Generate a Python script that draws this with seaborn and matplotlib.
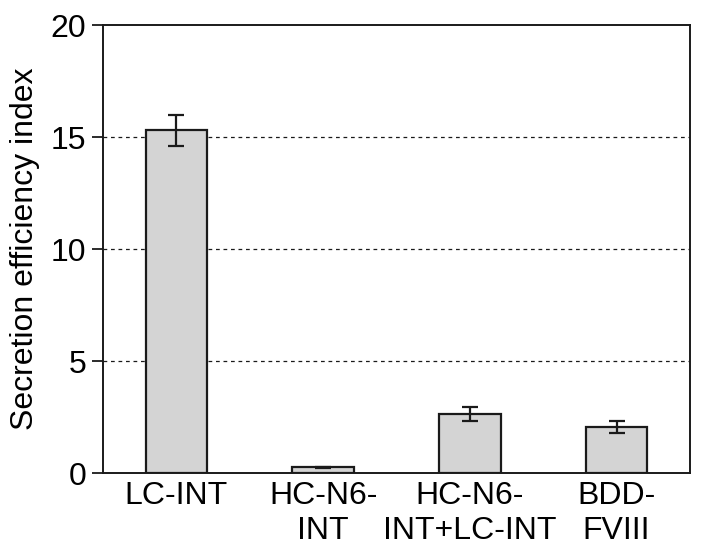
import matplotlib
matplotlib.use("Agg")
import matplotlib.pyplot as plt
import seaborn as sns
import pandas as pd

categories = ["LC-INT", "HC-N6-\nINT", "HC-N6-\nINT+LC-INT", "BDD-\nFVIII"]
values = [15.3, 0.27, 2.65, 2.05]
errors = [0.7, 0.02, 0.32, 0.27]
yticks = [0, 5, 10, 15, 20]

sns.set_theme(style="white")
plt.rcParams['font.family'] = ['Liberation Sans', 'DejaVu Sans']
plt.rcParams['text.color'] = 'black'
plt.rcParams['axes.labelcolor'] = 'black'
plt.rcParams['xtick.color'] = 'black'
plt.rcParams['ytick.color'] = 'black'

df = pd.DataFrame({"cat": categories, "val": values})
fig = plt.figure(figsize=(7.03, 5.56), dpi=100)
ax = fig.add_axes([0.1465, 0.149, 0.835, 0.806])

sns.barplot(data=df, x="cat", y="val", ax=ax, color="#d4d4d4", width=0.42,
            edgecolor="#1a1a1a", linewidth=1.6, errorbar=None, saturation=1)
ax.errorbar(range(len(values)), values, yerr=errors, fmt="none",
            ecolor="#1a1a1a", elinewidth=1.6, capsize=5.5, capthick=1.6, zorder=5)

ax.set_ylim(0, 20)
ax.set_xlim(-0.5, 3.5)
ax.set_yticks(yticks)
ax.set_yticklabels([str(t) for t in yticks])
for t in [5, 10, 15]:
    ax.axhline(t, color="#1a1a1a", linestyle=(0, (3, 3)), linewidth=0.9, zorder=0)
ax.set_axisbelow(True)

ax.set_xlabel("")
ax.set_ylabel("Secretion efficiency index", fontsize=23, labelpad=8)
ax.tick_params(axis="y", direction="out", length=8, width=1.3, color="#1a1a1a",
               labelsize=23, left=True, pad=4)
ax.tick_params(axis="x", length=0, labelsize=23, pad=6)
for s in ax.spines.values():
    s.set_color("#1a1a1a")
    s.set_linewidth(1.4)
    s.set_visible(True)

fig.savefig("out.png", dpi=100)
